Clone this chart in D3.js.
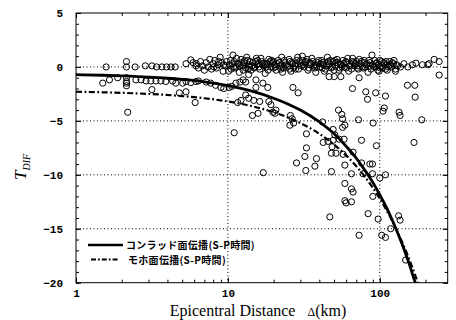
<!DOCTYPE html>
<html>
<head>
<meta charset="utf-8">
<script src="https://cdn.jsdelivr.net/npm/d3@7"></script>
<style>
body { margin: 0; background: #fff; }
</style>
</head>
<body>
<svg id="chart"></svg>
<script>
var yTicks = [5, 0, -5, -10, -15, -20];
var xTicks = [1, 10, 100];
var xTickLabels = ["1", "10", "100"];
var legendLabels = ["コンラッド面伝播(S-P時間)", "モホ面伝播(S-P時間)"];

// curves [distance km, T_DIF]
var conrad = [[1,-0.72],[1.5,-0.77],[2,-0.83],[3,-0.94],[4,-1.05],[5,-1.16],[7,-1.38],[10,-1.73],
    [14,-2.2],[20,-2.9],[25,-3.45],[30,-4.0],[40,-5.1],[50,-6.2],[60,-7.35],[70,-8.45],[80,-9.6],
    [90,-10.7],[100,-11.85],[110,-12.95],[120,-14.1],[130,-15.25],[140,-16.4],[150,-17.55],
    [160,-18.7],[170,-19.85],[172,-20]];
var moho = [[1,-2.3],[1.5,-2.35],[2,-2.4],[3,-2.5],[5,-2.7],[7,-2.9],[10,-3.2],[14,-3.6],[20,-4.2],
    [25,-4.7],[30,-5.2],[40,-6.2],[50,-7.2],[60,-8.2],[70,-9.2],[80,-10.2],[90,-11.2],[100,-12.2],
    [110,-13.2],[120,-14.2],[130,-15.2],[140,-16.2],[150,-17.2],[160,-18.2],[170,-19.2],[178,-20]];

// observations near zero
var nearZero = [[1.58,0],[2.15,0.5],[2.15,0],[2.45,0],[2.86,0.1],[3.16,0.1],[3.39,0],[3.68,0],[3.95,0],
    [4.22,0],[4.5,0],[5.3,0.3],[5.7,0.65],[5.9,0.4],[6.16,0.1],
    [6.2,0.3],[6.4,-0.1],[6.6,0.5],[6.8,0.1],[7.0,-0.3],[7.2,0.4],[7.4,0.0],[7.6,0.7],[7.8,-0.2],
    [8.0,0.3],[8.2,0.6],[8.4,-0.1],[8.6,0.2],[8.9,0.9],[9.1,0.4],[9.3,-0.4],[9.6,0.1],[9.8,0.5],
    [10.2,0.2],[10.5,-0.2],[10.8,1.1],[11.0,0.5],[11.3,0.0],[11.6,0.3],[11.9,-0.5],[12.2,0.7],
    [12.5,0.1],[12.8,0.4],[13.1,-0.1],[13.5,0.6],[13.8,0.2],[14.2,-0.3],[14.6,0.4],[15.0,0.0],
    [15.4,0.8],[15.8,0.3],[16.2,-0.2],[16.7,0.5],[17.1,0.1],[17.6,-0.6],[18.1,0.3],[18.6,0.7],
    [19.1,0.0],[19.6,0.4],[20.2,0.2],[20.8,-0.3],[21.4,0.6],[22.0,0.1],[22.6,0.9],[23.2,-0.1],
    [23.9,0.4],[24.6,0.0],[25.3,0.7],[26.0,-0.4],[26.8,0.3],[27.6,0.1],[28.4,0.6],[29.2,-0.2],
    [30.0,0.3],[30.9,1.0],[31.8,0.0],[32.7,0.5],[33.7,-0.3],[34.7,0.2],[35.7,0.8],[36.8,0.1],
    [37.9,-0.5],[39.0,0.4],[40.2,0.0],[41.4,0.6],[42.6,0.2],[43.9,-0.2],[45.2,0.9],[46.5,0.3],
    [47.9,-0.1],[49.3,0.5],[50.8,0.1],[52.3,0.7],[53.9,-0.3],[55.5,0.2],[57.1,0.6],[58.8,0.0],
    [60.6,0.4],[62.4,-0.4],[64.2,0.2],[66.2,0.8],[68.1,0.1],[70.2,0.5],[72.3,-0.2],[74.4,0.3],
    [76.6,0.0],[78.9,0.6],[81.3,0.2],[83.7,-0.5],[86.2,0.4],[88.8,1.1],[91.4,0.0],[94.2,0.3],
    [97.0,-0.3],[99.9,0.6],[102.9,0.1],[106,0.4],[109,-0.2],[112,0.2],[116,0.5],[119,0.0],
    [123,0.3],[127,-0.2],[131,0.1],
    [10.4,0.6],[11.1,-0.1],[11.8,0.3],[12.6,-0.3],[13.3,0.9],[14.0,0.5],[14.9,-0.1],[15.6,0.2],
    [16.5,0.8],[17.4,0.3],[18.4,-0.3],[19.4,0.6],[20.5,0.0],[21.7,0.4],[22.9,-0.5],[24.2,0.2],
    [25.6,0.5],[27.1,-0.1],[28.8,0.9],[30.5,0.1],[32.2,0.4],[34.2,-0.1],[36.2,0.5],[38.4,0.0],
    [40.8,0.3],[43.2,-0.4],[45.8,0.5],[48.6,0.0],[51.5,0.4],[54.7,-0.1],[58.0,0.3],[61.5,0.8],
    [65.2,-0.2],[69.1,0.3],[73.3,0.7],[77.7,-0.1],[82.4,0.3],[87.4,-0.2],[92.7,0.6],[98.3,0.2],
    [104,-0.1],[110,0.5],[117,0.2],[124,0.6],
    [8.1,0.0],[8.7,0.5],[9.4,0.2],[10.1,-0.4],[10.7,0.3],[11.4,0.8],[12.0,0.1],[12.9,0.6],
    [13.6,-0.2],[14.4,0.1],[15.2,0.5],[16.0,0.0],[16.9,0.3],[17.9,0.0],[18.9,0.5],[19.9,-0.1],
    [21.0,0.3],[22.3,-0.2],[23.5,0.6],[24.9,0.1],[26.4,0.4],[27.9,-0.2],[29.6,0.5],[31.3,0.2],
    [33.2,0.7],[35.2,0.3],[37.3,-0.1],[39.6,0.6],[42.0,0.4],[44.5,0.1],[47.2,0.6],[50.0,-0.3],
    [53.0,0.4],[56.3,0.0],[59.7,0.5],[63.3,0.1],[67.1,0.4],[71.2,-0.1],[75.5,0.5],[80.0,0.0],
    [84.9,0.6],[90.0,0.2],[95.5,0.4],[101,-0.1],[107,0.3],[114,0.0],[121,0.4],[129,0.2],[137,0.0],
    [10.9,0.0],[12.3,0.4],[13.9,0.0],[15.7,0.6],[17.7,0.2],[20.0,0.5],[22.6,0.2],[25.5,-0.2],
    [28.0,0.3],[31.0,0.6],[34.5,0.4],[38.0,0.2],[41.8,-0.1],[46.0,0.2],[50.5,0.6],[55.0,0.3],
    [60.0,-0.1],[66.0,0.5],[72.0,0.1],[79.0,0.4],[86.0,0.1],[94.0,0.0],[103,0.5],[112,-0.3],
    [144,0.3],[153,0.0],[164,0.2],[173,0.35],[191,0.2],[207,0.2],[211,0.3],[228,0.7],[246,0.5]];

// observations below the band
var scattered = [[1.5,-1.5],[1.66,-1.2],[1.88,-1.0],[2.15,-1.0],[2.15,-1.35],[2.15,-1.5],[2.15,-1.75],
    [2.48,-1.2],[2.68,-1.2],[2.89,-1.3],[3.11,-1.3],[3.36,-1.3],[3.62,-1.3],[3.9,-1.35],[4.33,-1.3],
    [4.54,-1.5],[5.04,-1.5],[5.3,-1.35],[5.7,-1.45],[6.16,-1.35],[3.16,-2.1],[4.79,-2.4],[5.3,-2.3],
    [6.09,-3.3],[2.19,-4.2],
    [6.4,-1.3],[7.2,-1.4],[7.7,-1.5],[8.3,-1.7],[9.0,-1.9],[9.4,-2.0],[10.2,-1.9],[10.6,-1.8],
    [11.3,-1.5],[12,-1.4],[12.6,-1.2],[13.1,-1.4],[13.7,-0.7],[15.3,-1.2],[17,-1.5],[15.3,-1.9],
    [13.1,-2.6],[13.7,-2.9],[12.2,-3.1],[11.6,-3.3],[14.8,-3.1],[16.2,-3.2],[18.6,-3.2],[19.2,-3.5],
    [19.8,-4.2],[20.7,-4.0],[18.3,-1.9],[11.0,-6.1],[14.5,-4.5],[15.8,-4.3],[20.4,-4.3],[26.8,-1.9],
    [29.0,-2.4],[25.8,-4.5],[26.5,-4.8],[27.1,-5.2],[25.6,-5.4],[32.9,-6.2],[32.9,-7.5],[32.1,-8.3],
    [28.3,-8.9],[32.6,-9.6],[37.4,-9.2],[17.1,-9.8],[38.3,-8.5],
    [46.4,-0.9],[50.1,-0.9],[55.4,-0.9],[73.1,-1.0],[99,-0.4],[127,-0.4],[66.1,-2.0],[80.9,-2.3],
    [83,-3.0],[94,-2.4],[109,-2.7],[107,-3.8],[152,-1.7],[170,-1.7],[171,-2.8],[53.5,-4.0],
    [56.2,-4.4],[56.9,-4.8],[72.4,-4.9],[90.4,-5.2],[134,-4.2],[136,-4.5],[189,-4.9],[42,-5.1],
    [42.4,-7.0],[45.6,-6.9],[49.3,-6.8],[54,-6.7],[56.9,-5.6],[58.2,-6.7],[48.5,-7.4],[48,-8.0],
    [51.5,-8.0],[57.4,-8.1],[75.8,-6.8],[95,-7.3],[168,-7.0],[105,-4.1],[49.3,-5.8],[50.6,-6.3],
    [58.9,-5.4],[58.9,-9.1],[66.7,-7.9],[75.8,-8.9],[86,-9.0],[89.5,-9.0],[89.5,-9.9],[77.6,-9.9],
    [65.1,-9.9],[48.1,-9.7],[58.9,-10.8],[65.1,-11.3],[66.7,-11.6],[58.9,-12.4],[60,-12.6],
    [65.1,-12.5],[100,-10.3],[109,-10.0],[90,-12.0],[83.8,-13.6],[97.5,-14.1],[46.9,-13.9],
    [133,-13.8],[136,-14.2],[118,-15.0],[73.1,-15.6],[103,-15.6],[109,-15.8],[148,-17.9],[246,-0.75]];

var margin = {top: 13, right: 8.3, bottom: 37.3, left: 76};
var width = 456 - margin.left - margin.right,
    height = 320 - margin.top - margin.bottom;

var svg = d3.select("#chart")
    .attr("width", 456)
    .attr("height", 320);

var chart = svg.append("g")
    .attr("transform", "translate(" + margin.left + "," + margin.top + ")");

var x = d3.scaleLog().domain([1, 280]).range([0, width]);
var y = d3.scaleLinear().domain([-20, 5]).range([height, 0]);

chart.append("defs").append("clipPath")
    .attr("id", "clip")
    .append("rect")
    .attr("width", width)
    .attr("height", height);

// dotted grid
chart.selectAll(".gy")
    .data(yTicks.filter(function(d) { return d > -20 && d < 5; }))
    .enter().append("line")
    .attr("x1", 0).attr("x2", width)
    .attr("y1", function(d) { return y(d); })
    .attr("y2", function(d) { return y(d); })
    .style("stroke", "#000")
    .style("stroke-width", 1)
    .style("stroke-dasharray", "1,2.5");

chart.selectAll(".gx")
    .data(xTicks.filter(function(d) { return d > 1; }))
    .enter().append("line")
    .attr("y1", 0).attr("y2", height)
    .attr("x1", function(d) { return x(d); })
    .attr("x2", function(d) { return x(d); })
    .style("stroke", "#000")
    .style("stroke-width", 1)
    .style("stroke-dasharray", "1,2.5");

// axes: ticks drawn inward
var tickFont = "'Liberation Mono', monospace";
var minorY = d3.range(-20, 6, 1);
var minorX = x.ticks();

function styleAxis(g) {
    g.select(".domain").remove();
    g.selectAll("line").style("stroke", "#000");
    g.selectAll("text")
        .style("font-family", tickFont)
        .style("font-weight", "bold")
        .style("font-size", "11px")
        .style("fill", "#000");
}

chart.append("g")
    .call(d3.axisLeft(y).tickValues(yTicks).tickSize(-5).tickPadding(13))
    .call(styleAxis);
chart.append("g")
    .call(d3.axisLeft(y).tickValues(minorY).tickSize(-3).tickFormat(""))
    .call(styleAxis);
chart.append("g")
    .attr("transform", "translate(" + width + ",0)")
    .call(d3.axisRight(y).tickValues(yTicks).tickSize(-5).tickFormat(""))
    .call(styleAxis);
chart.append("g")
    .attr("transform", "translate(" + width + ",0)")
    .call(d3.axisRight(y).tickValues(minorY).tickSize(-3).tickFormat(""))
    .call(styleAxis);

chart.append("g")
    .attr("transform", "translate(0," + height + ")")
    .call(d3.axisBottom(x).tickValues(xTicks).tickSize(-5).tickPadding(7)
        .tickFormat(function(d, i) { return xTickLabels[i]; }))
    .call(styleAxis);
chart.append("g")
    .attr("transform", "translate(0," + height + ")")
    .call(d3.axisBottom(x).tickValues(minorX).tickSize(-3).tickFormat(""))
    .call(styleAxis);
chart.append("g")
    .call(d3.axisTop(x).tickValues(xTicks).tickSize(-5).tickFormat(""))
    .call(styleAxis);
chart.append("g")
    .call(d3.axisTop(x).tickValues(minorX).tickSize(-3).tickFormat(""))
    .call(styleAxis);

// frame
chart.append("rect")
    .attr("width", width)
    .attr("height", height)
    .style("fill", "none")
    .style("stroke", "#000")
    .style("stroke-width", 1);

// observations
var plotArea = chart.append("g").attr("clip-path", "url(#clip)");

plotArea.selectAll(".obs")
    .data(nearZero.concat(scattered))
    .enter().append("circle")
    .attr("class", "obs")
    .attr("cx", function(d) { return x(d[0]); })
    .attr("cy", function(d) { return y(d[1]); })
    .attr("r", 3.1)
    .style("fill", "none")
    .style("stroke", "#000")
    .style("stroke-width", 1);

var line = d3.line()
    .x(function(d) { return x(d[0]); })
    .y(function(d) { return y(d[1]); })
    .curve(d3.curveMonotoneX);

plotArea.append("path")
    .datum(moho)
    .attr("d", line)
    .style("fill", "none")
    .style("stroke", "#000")
    .style("stroke-width", 2.2)
    .style("stroke-dasharray", "6,2.5,1.8,2.5");

plotArea.append("path")
    .datum(conrad)
    .attr("d", line)
    .style("fill", "none")
    .style("stroke", "#000")
    .style("stroke-width", 2.8);

// legend
var legend = chart.append("g").attr("transform", "translate(0," + (245 - margin.top) + ")");
legend.append("line")
    .attr("x1", 12).attr("x2", 47).attr("y1", 0).attr("y2", 0)
    .style("stroke", "#000").style("stroke-width", 2.6);
legend.append("line")
    .attr("x1", 15).attr("x2", 43).attr("y1", 14.5).attr("y2", 14.5)
    .style("stroke", "#000").style("stroke-width", 2.2)
    .style("stroke-dasharray", "5,2,1.8,2");
legend.selectAll(".lt")
    .data(legendLabels)
    .enter().append("text")
    .attr("x", function(d, i) { return i === 0 ? 50 : 52; })
    .attr("y", function(d, i) { return i * 14.5 + 4; })
    .style("font-family", "'Noto Sans CJK JP', sans-serif")
    .style("font-weight", "bold")
    .style("font-size", "10px")
    .style("letter-spacing", "0.3px")
    .text(function(d) { return d; });

// axis titles
var xTitle = svg.append("text")
    .attr("x", 258)
    .attr("y", 316)
    .attr("text-anchor", "middle")
    .style("font-family", "'Liberation Serif', serif")
    .style("font-size", "16px");
xTitle.append("tspan").text("Epicentral Distance\u00a0\u00a0\u00a0");
xTitle.append("tspan").style("font-size", "12px").text("\u0394");
xTitle.append("tspan").text("(km)");

var yTitle = svg.append("text")
    .attr("transform", "translate(26,167) rotate(-90)")
    .attr("text-anchor", "middle")
    .style("font-family", "'Liberation Serif', serif")
    .style("font-style", "italic")
    .style("font-size", "17px");
yTitle.append("tspan").text("T");
yTitle.append("tspan").attr("dy", 4).style("font-size", "10px").text("DIF");
</script>
</body>
</html>
